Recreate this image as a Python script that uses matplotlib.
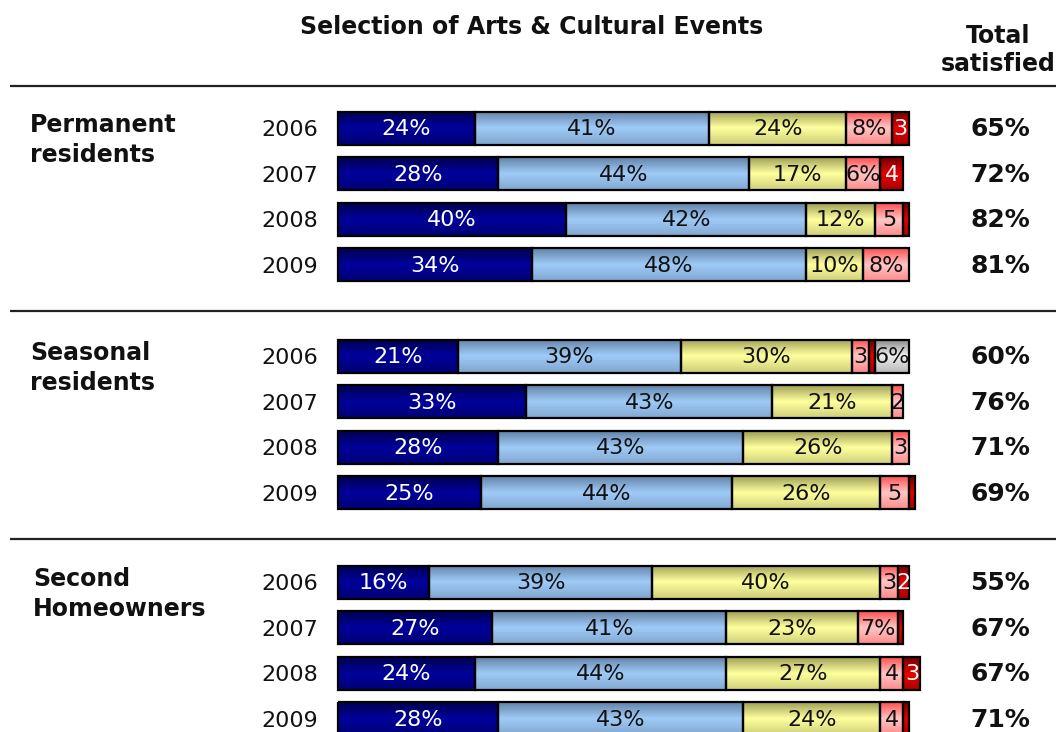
import numpy as np
import matplotlib
matplotlib.use("Agg")
import matplotlib.pyplot as plt
import matplotlib.colors as mcolors

# ---------------- data ----------------
title = "Selection of Arts & Cultural Events"
groups = ["Permanent\nresidents", "Seasonal\nresidents", "Second\nHomeowners"]
years = ["2006", "2007", "2008", "2009"]
categories = ["Very satisfied", "Somewhat satisfied", "Neutral",
              "Somewhat dissatisfied", "Very dissatisfied", "Don't know"]

perm_values = [[24, 41, 24, 8, 3, 0],
               [28, 44, 17, 6, 4, 0],
               [40, 42, 12, 5, 1, 0],
               [34, 48, 10, 8, 0, 0]]
seas_values = [[21, 39, 30, 3, 1, 6],
               [33, 43, 21, 2, 0, 0],
               [28, 43, 26, 3, 0, 0],
               [25, 44, 26, 5, 1, 0]]
second_values = [[16, 39, 40, 3, 2, 0],
                 [27, 41, 23, 7, 1, 0],
                 [24, 44, 27, 4, 3, 0],
                 [28, 43, 24, 4, 1, 0]]
perm_total = [65, 72, 82, 81]
seas_total = [60, 76, 71, 69]
second_total = [55, 67, 67, 71]

all_values = [perm_values, seas_values, second_values]
all_totals = [perm_total, seas_total, second_total]

# ---------------- style ----------------
edge_cols = ["#000050", "#6383a8", "#a0a058", "#ff5050", "#700000", "#888888"]
mid_cols = ["#00009c", "#9fcbf7", "#ffff9e", "#ffc6c6", "#e80000", "#eeeeee"]
text_cols = ["white", "#111111", "#111111", "#111111", "white", "#111111"]

W, H = 1056, 732
fig = plt.figure(figsize=(W / 100, H / 100), dpi=100)
ax = fig.add_axes([0, 0, 1, 1])
X0_PX, PX_PER = 338.0, 5.71
xlim = (-X0_PX / PX_PER, (W - X0_PX) / PX_PER)
ylim = (H, 0)


def px2x(px):
    return (px - X0_PX) / PX_PER


group_tops = [128, 356, 582]
row_step = 45.6
bar_h = 33

t = np.linspace(0, 1, 64)
prof = np.interp(t, [0, 0.5, 1.0], [1.0, 0.0, 0.5])  # 1=edge colour, 0=mid colour


def shade(patch, ci):
    e = np.array(mcolors.to_rgb(edge_cols[ci]))
    m = np.array(mcolors.to_rgb(mid_cols[ci]))
    img = m[None, :] * (1 - prof[:, None]) + e[None, :] * prof[:, None]
    img = img[:, None, :]
    x, y = patch.get_x(), patch.get_y()
    w, h = patch.get_width(), patch.get_height()
    im = ax.imshow(img, extent=(x, x + w, y + h, y), origin="upper",
                   aspect="auto", interpolation="bilinear", zorder=2)
    im.set_clip_path(patch)


for g, (vals, tots) in enumerate(zip(all_values, all_totals)):
    for r, row in enumerate(vals):
        yc = group_tops[g] + r * row_step
        left = 0
        for ci, v in enumerate(row):
            if v <= 0:
                continue
            bars = ax.barh(yc, v, left=left, height=bar_h, color=mid_cols[ci],
                           edgecolor="black", linewidth=1.6, zorder=3)
            p = bars.patches[0]
            p.set_facecolor("none")
            shade(p, ci)
            if v >= 6:
                lab = f"{v}%"
            elif v >= 2:
                lab = f"{v}"
            else:
                lab = ""
            if lab:
                ax.text(left + v / 2, yc + 1, lab, ha="center", va="center",
                        fontsize=16, color=text_cols[ci], zorder=4)
            left += v
        ax.text(px2x(318), yc + 2, years[r], ha="right", va="center",
                fontsize=16, color="#111111")
        ax.text(px2x(1000), yc + 1, f"{tots[r]}%", ha="center", va="center",
                fontsize=18, fontweight="bold", color="#111111")
    ax.text(px2x(30 if g < 2 else 33), group_tops[g] - 15, groups[g],
            ha="left", va="top", fontsize=17, fontweight="bold",
            color="#111111", linespacing=1.3)

for yl in [86, 311, 539]:
    ax.plot([px2x(10), px2x(1056)], [yl, yl], color="#222222", lw=1.6,
            solid_capstyle="butt", clip_on=False)

ax.text(px2x(532), 27, title, ha="center", va="center", fontsize=17,
        fontweight="bold", color="#111111")
ax.text(px2x(998), 50, "Total\nsatisfied", ha="center", va="center",
        fontsize=17, fontweight="bold", color="#111111", linespacing=1.25)

ax.set_xlim(*xlim)
ax.set_ylim(*ylim)
ax.axis("off")
fig.savefig("out.png", dpi=100)
